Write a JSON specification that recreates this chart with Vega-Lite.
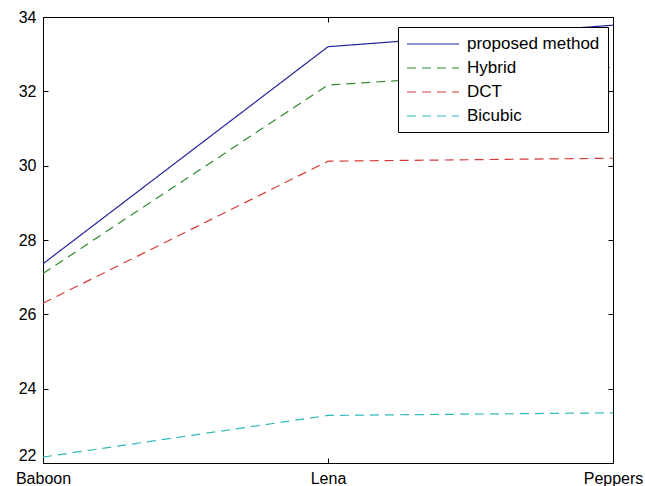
{
  "$schema": "https://vega.github.io/schema/vega-lite/v6.json",
  "autosize": "none",
  "width": 570,
  "height": 446,
  "padding": {"left": 43, "top": 17, "right": 32, "bottom": 23},
  "background": "white",
  "config": {
    "view": {"stroke": "black", "strokeWidth": 1},
    "font": "Liberation Sans",
    "axis": {
      "labelFont": "Liberation Sans",
      "labelFontSize": 16,
      "labelColor": "black",
      "domainColor": "black",
      "tickColor": "black",
      "grid": false,
      "title": null,
      "tickSize": -5
    },
    "legend": {
      "orient": "none",
      "legendX": 355,
      "legendY": 10,
      "strokeColor": "black",
      "fillColor": "white",
      "padding": 8,
      "symbolType": "M-1,0H5.5",
      "symbolSize": 256,
      "symbolStrokeWidth": 1.2,
      "labelFont": "Liberation Sans",
      "labelFontSize": 17,
      "labelColor": "black",
      "labelOffset": 43,
      "rowPadding": 7,
      "cornerRadius": 0
    }
  },
  "data": {
    "values": [
      {"image": "Baboon", "method": "proposed method", "psnr": 27.36},
      {"image": "Lena", "method": "proposed method", "psnr": 33.2},
      {"image": "Peppers", "method": "proposed method", "psnr": 33.78},
      {"image": "Baboon", "method": "Hybrid", "psnr": 27.1},
      {"image": "Lena", "method": "Hybrid", "psnr": 32.17},
      {"image": "Peppers", "method": "Hybrid", "psnr": 32.65},
      {"image": "Baboon", "method": "DCT", "psnr": 26.3},
      {"image": "Lena", "method": "DCT", "psnr": 30.12},
      {"image": "Peppers", "method": "DCT", "psnr": 30.2},
      {"image": "Baboon", "method": "Bicubic", "psnr": 22.16},
      {"image": "Lena", "method": "Bicubic", "psnr": 23.28},
      {"image": "Peppers", "method": "Bicubic", "psnr": 23.35}
    ]
  },
  "layer": [
    {
      "mark": {"type": "line", "strokeWidth": 1.2},
      "encoding": {
        "x": {
          "field": "image",
          "type": "nominal",
          "sort": ["Baboon", "Lena", "Peppers"],
          "scale": {"type": "point", "padding": 0},
          "axis": {"orient": "bottom", "labelAngle": 0, "labelPadding": 12}
        },
        "y": {
          "field": "psnr",
          "type": "quantitative",
          "scale": {"domain": [22, 34], "nice": false, "zero": false},
          "axis": {
            "orient": "left",
            "values": [22, 24, 26, 28, 30, 32, 34],
            "labelPadding": 12,
            "labelBaseline": {"condition": {"test": "datum.value == 22", "value": "bottom"}, "value": "middle"}
          }
        },
        "color": {
          "field": "method",
          "type": "nominal",
          "sort": ["proposed method", "Hybrid", "DCT", "Bicubic"],
          "scale": {"domain": ["proposed method", "Hybrid", "DCT", "Bicubic"], "range": ["#24249a", "#2e8a2e", "#d83a3a", "#2fbaba"]},
          "legend": {"title": null}
        },
        "strokeDash": {
          "field": "method",
          "type": "nominal",
          "sort": ["proposed method", "Hybrid", "DCT", "Bicubic"],
          "scale": {"domain": ["proposed method", "Hybrid", "DCT", "Bicubic"], "range": [[1, 0], [9, 6], [9, 6], [9, 6]]},
          "legend": {"title": null}
        }
      }
    },
    {
      "mark": {"type": "line", "opacity": 0},
      "encoding": {
        "x": {
          "field": "image",
          "type": "nominal",
          "sort": ["Baboon", "Lena", "Peppers"],
          "axis": {"orient": "top", "labels": false}
        },
        "y": {
          "field": "psnr",
          "type": "quantitative",
          "axis": {"orient": "right", "labels": false, "values": [22, 24, 26, 28, 30, 32, 34]}
        },
        "detail": {"field": "method", "type": "nominal"}
      }
    }
  ],
  "resolve": {"axis": {"x": "independent", "y": "independent"}}
}
